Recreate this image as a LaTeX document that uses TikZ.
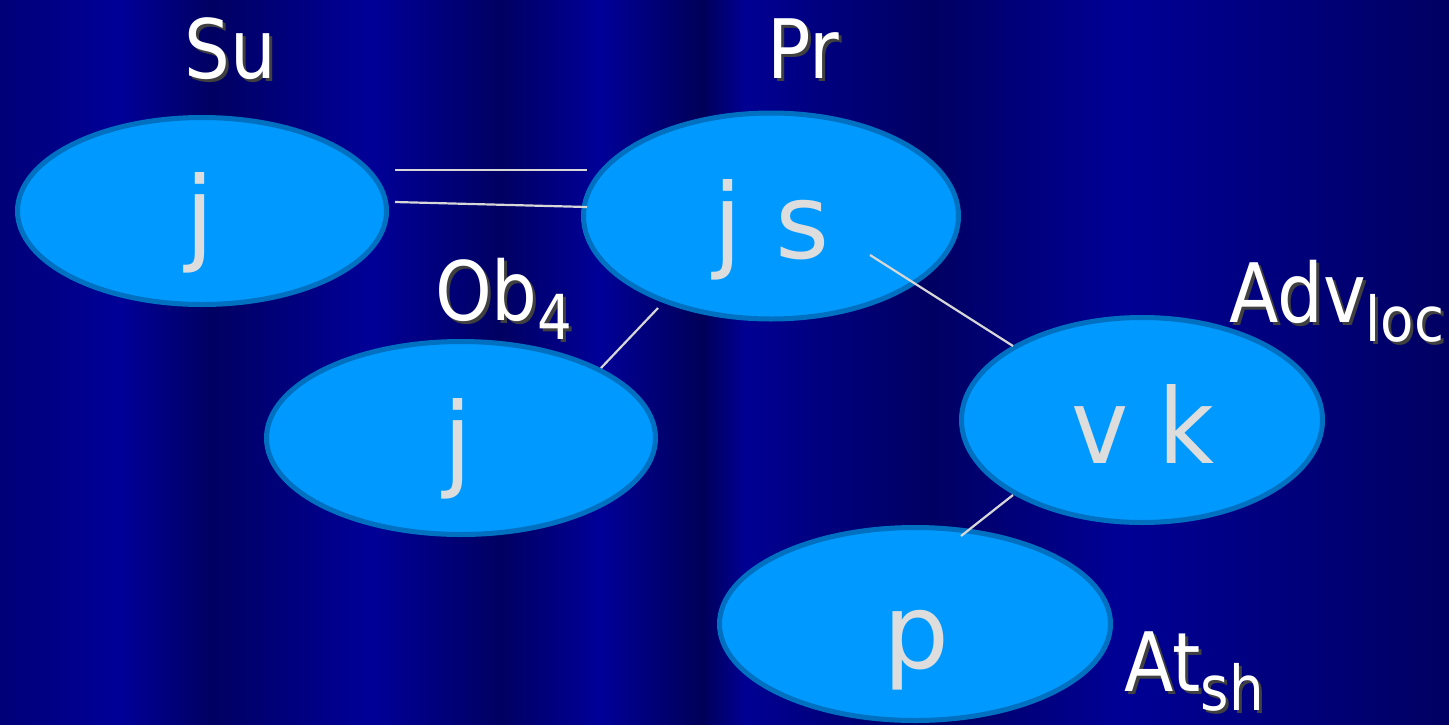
\documentclass[tikz,border=0pt]{standalone}
\usepackage{fontspec}
\setmainfont{DejaVu Sans}
\usetikzlibrary{shapes.geometric,calc}
\definecolor{bgA}{RGB}{0,0,98}
\definecolor{bgB}{RGB}{0,0,152}
\definecolor{ellfill}{RGB}{0,153,255}
\definecolor{elldraw}{RGB}{0,112,192}
\definecolor{inktxt}{RGB}{221,221,221}
\definecolor{linkcol}{RGB}{215,215,215}
\tikzset{
  ell/.style={ellipse, fill=ellfill, draw=elldraw, line width=5pt, inner sep=0pt},
  inner/.style={anchor=base, text=inktxt, font=\fontsize{104}{104}\selectfont, inner sep=0pt},
  lbl/.style={anchor=base west, text=white, font=\fontsize{82}{82}\selectfont, inner sep=0pt},
  link/.style={draw=linkcol, line width=2.2pt}
}
\newcommand{\shtext}[1]{\makebox[0pt][l]{\hspace{3pt}\raisebox{-3pt}[0pt][0pt]{\color{black!75}\scalebox{0.88}[1]{#1}}}\scalebox{0.88}[1]{#1}}
\newcommand{\subx}[1]{\raisebox{-19pt}{\fontsize{62}{62}\selectfont #1}}
\begin{document}
\begin{tikzpicture}[x=1pt,y=-1pt]
\useasboundingbox (0,0) rectangle (1449,724);
% background stripes
\fill[left color=bgA!60!bgB, right color=bgB] (0,0) rectangle (120,724);
\fill[left color=bgB, right color=bgA] (120,0) rectangle (212,724);
\fill[left color=bgA, right color=bgB] (212,0) rectangle (370,724);
\fill[left color=bgB, right color=bgA] (370,0) rectangle (500,724);
\fill[left color=bgA, right color=bgB] (500,0) rectangle (600,724);
\fill[left color=bgB, right color=bgA!90!black] (600,0) rectangle (702,724);
\fill[left color=bgA!90!black, right color=bgB!90!bgA] (702,0) rectangle (745,724);
\fill[left color=bgB!90!bgA, right color=bgA] (745,0) rectangle (930,724);
\fill[left color=bgA, right color=bgB!95!bgA] (930,0) rectangle (1120,724);
\fill[left color=bgB!95!bgA, right color=bgA] (1120,0) rectangle (1449,724);

% ellipses
\node[ell, minimum width=369pt, minimum height=187pt] (e1) at (202,211) {};
\node[ell, minimum width=375pt, minimum height=206pt] (e2) at (771,216) {};
\node[ell, minimum width=389pt, minimum height=193pt] (e3) at (461,438) {};
\node[ell, minimum width=361pt, minimum height=205pt] (e4) at (1142,420) {};
\node[ell, minimum width=391pt, minimum height=193pt] (e5) at (915,624) {};

% inner texts
\node[inner] (t1) at (200,251) {j};
\node[inner] (t2) at (772,258) {j s};
\node[inner] (t3) at (458,477) {j};
\node[inner] (t4) at (1143,463) {\scalebox{0.93}[1]{v k}};
\node[inner] (t5) at (916,668) {p};

% connectors
\coordinate (a1) at (395,170); \coordinate (b1) at (587,170);
\coordinate (a2) at (395,202); \coordinate (b2) at (587,207);
\coordinate (a3) at (658,308); \coordinate (b3) at (601,368);
\coordinate (a4) at (870,255); \coordinate (b4) at (1013,346);
\coordinate (a5) at (1013,495); \coordinate (b5) at (961,536);
\draw[link] (a1) -- (b1);
\draw[link] (a2) -- (b2);
\draw[link] (a3) -- (b3);
\draw[link] (a4) -- (b4);
\draw[link] (a5) -- (b5);

% labels
\node[lbl] (lsu) at (184,78) {\shtext{Su}};
\node[lbl] (lpr) at (767,78) {\shtext{Pr}};
\node[lbl] (lob) at (435,320) {\shtext{Ob\subx{4}}};
\node[lbl] (ladv) at (1229,322) {\shtext{Adv\subx{loc}}};
\node[lbl] (lat) at (1124,691) {\shtext{At\subx{sh}}};
\end{tikzpicture}
\end{document}
